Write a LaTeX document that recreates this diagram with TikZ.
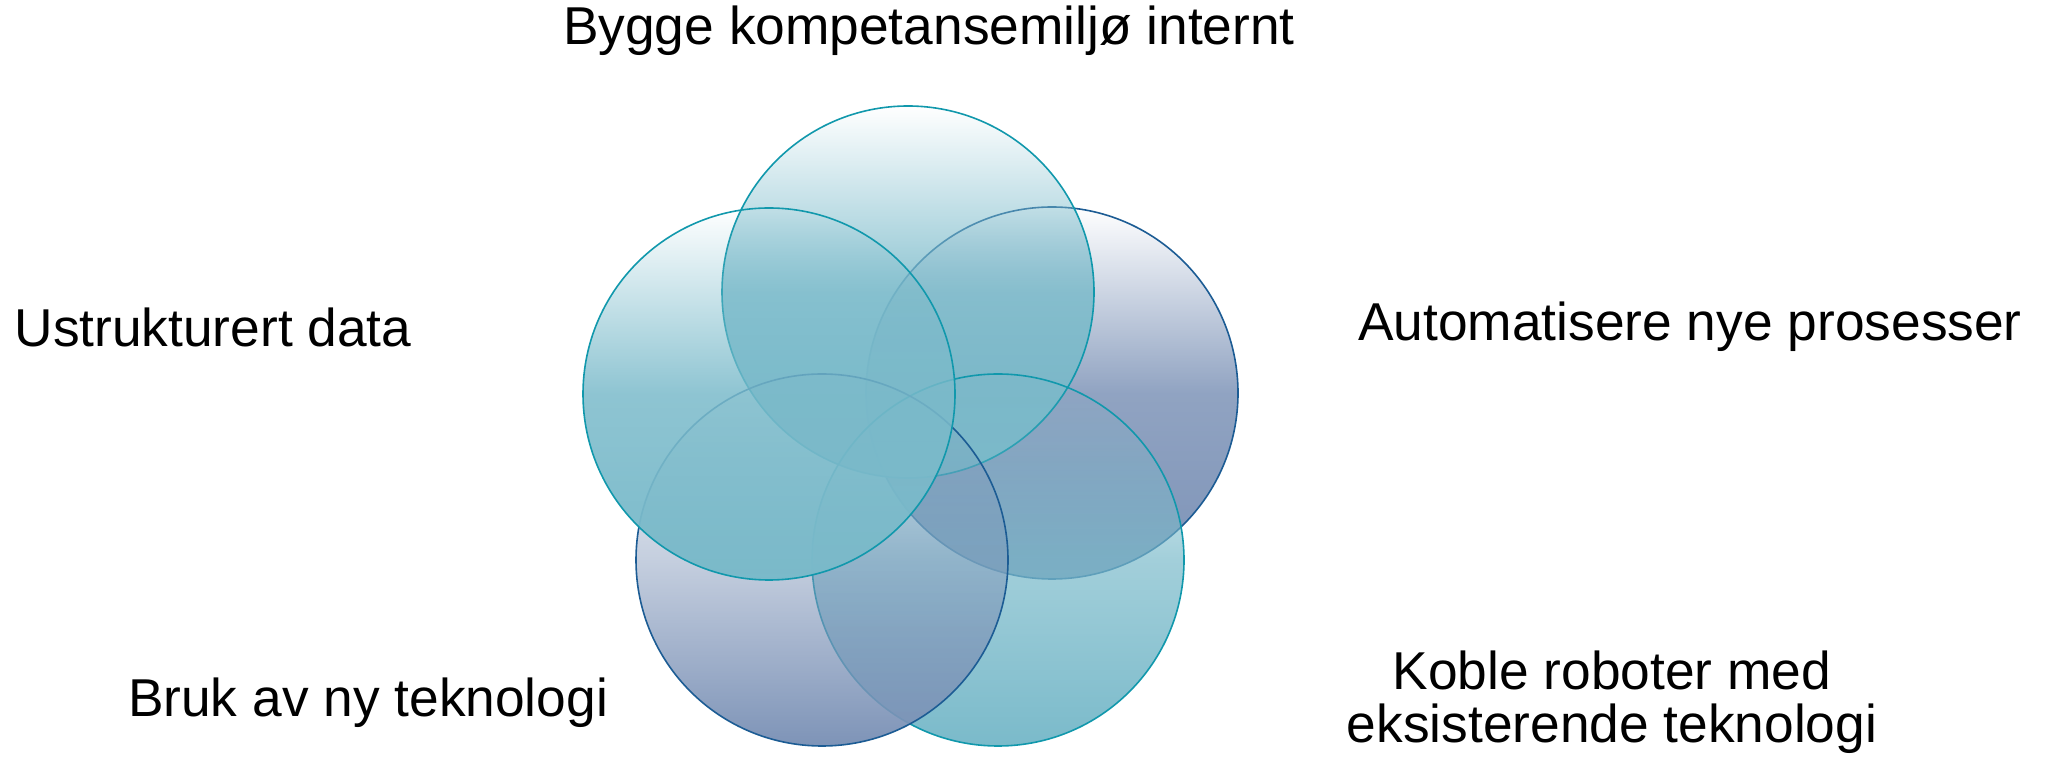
\documentclass[tikz,border=0pt]{standalone}
\usepackage{fontspec}
\setmainfont{Liberation Sans}
\usetikzlibrary{positioning, shapes, fadings}

\definecolor{tealline}{HTML}{1198AC}
\definecolor{tealfill}{HTML}{7ABACA}
\definecolor{blueline}{HTML}{1C5C94}
\definecolor{bluefill}{HTML}{7D93B7}

\tikzfading[name=upperfade, top color=transparent!100, bottom color=transparent!0, middle color=transparent!15]
\tikzfading[name=midfade, top color=transparent!100, bottom color=transparent!0, middle color=transparent!30]
\tikzfading[name=lowerfade, top color=transparent!100, bottom color=transparent!0, middle color=transparent!55]

\begin{document}
\begin{tikzpicture}[
		x=0.5pt, y=-0.5pt,
		disc/.style={circle, minimum size=186pt, inner sep=0pt},
		tealrim/.style={draw=tealline, line width=0.8pt},
		bluerim/.style={draw=blueline, line width=0.8pt},
		label/.style={font=\fontsize{26.65}{26.5}\selectfont, align=center, inner sep=0pt}
	]

	\useasboundingbox (0, 0) rectangle (2052, 758);

	\node[disc, fill=bluefill, path fading=upperfade] (right) at (1052, 393) {};
	\draw[bluerim] (right) circle [radius=93pt];
	\node[disc, fill=tealfill, path fading=upperfade] (top) at (908, 292) {};
	\draw[tealrim] (top) circle [radius=93pt];
	\node[disc, fill=tealfill, path fading=midfade] (bottomright) at (998, 560) {};
	\draw[tealrim] (bottomright) circle [radius=93pt];
	\node[disc, fill=bluefill, path fading=lowerfade] (bottomleft) at (822, 560) {};
	\draw[bluerim] (bottomleft) circle [radius=93pt];
	\node[disc, fill=tealfill, path fading=upperfade] (left) at (769, 394) {};
	\draw[tealrim] (left) circle [radius=93pt];

	\node[label] (toptext) at (929, 31) {Bygge kompetansemiljø internt};
	\node[label] (lefttext) at (213, 327) {Ustrukturert data};
	\node[label] (righttext) at (1690, 327) {Automatisere nye prosesser};
	\node[label] (bottomlefttext) at (368, 703) {Bruk av ny teknologi};
	\node[label] (bottomrighttext) at (1612, 702) {Koble roboter med\\eksisterende teknologi};

\end{tikzpicture}
\end{document}
